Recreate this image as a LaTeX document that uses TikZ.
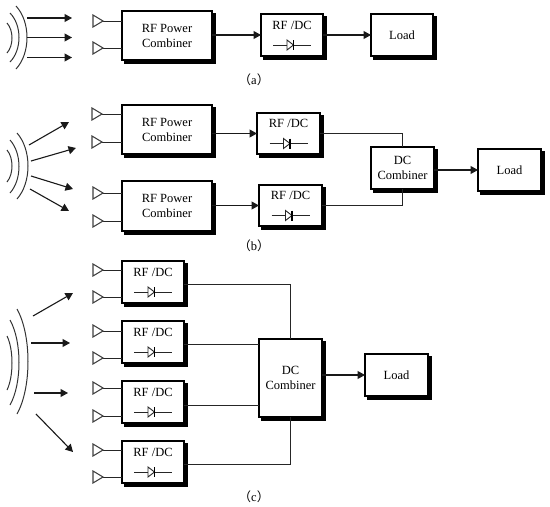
\documentclass[tikz,border=0pt]{standalone}
\usepackage{fontspec}
\setmainfont{Liberation Serif}
\newfontfamily\cjkf{Noto Sans CJK SC}
\usetikzlibrary{arrows.meta,shadows,calc}
\tikzset{
  blk/.style={draw=black,fill=white,line width=1.4pt,inner sep=0pt,outer sep=0pt,align=center,
    font=\fontsize{12.5}{15}\selectfont,
    copy shadow={shadow xshift=3pt,shadow yshift=-3pt,fill=black,draw=black,opacity=1}},
  conn/.style={line width=1pt,draw=black!85},
  arr/.style={line width=1.1pt,draw=black!90,-{Triangle[length=7.5pt,width=8pt]}},
  wavel/.style={line width=1pt,draw=black!80},
  antl/.style={line width=1.1pt,draw=black!75,fill=white,line join=miter},
  diodel/.style={line width=0.9pt,draw=black!85},
  captext/.style={font=\fontsize{12.5}{14}\selectfont,inner sep=0pt}
}
% name, x0, y0, x1, y1, text
\newcommand{\blkbox}[6]{%
  \pgfmathsetmacro{\bw}{#4-#2}\pgfmathsetmacro{\bh}{#5-#3}%
  \node[blk,minimum width=\bw pt,minimum height=\bh pt] (#1) at ({(#2+#4)/2},{(#3+#5)/2}) {#6};}
% rectifier box with a diode
\newcommand{\rfbox}[5]{%
  \blkbox{#1}{#2}{#3}{#4}{#5}{RF /DC\\ \strut}%
  \draw[diodel] ($(#1.center)+(-19,10)$) -- ($(#1.center)+(19,10)$);
  \draw[diodel,fill=white] ($(#1.center)+(-5,5)$) -- ($(#1.center)+(1.5,10)$) -- ($(#1.center)+(-5,15)$) -- cycle;
  \draw[line width=1.2pt,draw=black] ($(#1.center)+(1.5,5)$) -- ($(#1.center)+(1.5,15)$);}
% name, box, tip x, y
\newcommand{\antn}[4]{%
  \coordinate (#1) at (#3,#4);
  \draw[conn] (#1) -- (#1 -| #2.west);
  \draw[antl] (#3-10,#4-6) -- (#1) -- (#3-10,#4+6) -- cycle;}
% x0, y0, peak x, y1
\newcommand{\wave}[4]{%
  \draw[wavel] (#1,#2) .. controls ({#1+4/3*(#3-#1)},{#2+(#4-#2)/4}) and ({#1+4/3*(#3-#1)},{#2+3*(#4-#2)/4}) .. (#1,#4);}
% name, start, end
\newcommand{\ray}[3]{%
  \coordinate (#1s) at (#2); \coordinate (#1e) at (#3);
  \draw[arr] (#1s) -- (#1e);}
\begin{document}
\begin{tikzpicture}[x=1pt,y=-1pt]
\useasboundingbox (0,0) rectangle (550,507);
% ---------- (a)
\wave{16}{6}{27}{69}\wave{10}{13}{19}{62}\wave{7}{23}{12}{53}
\ray{aa}{27,18}{72,18}\ray{ab}{27,37.5}{72,37.5}\ray{ac}{27,57.5}{72,57.5}
\blkbox{ap}{122}{11}{212}{60}{RF Power\\Combiner}
\rfbox{ar}{261}{14}{323}{56}
\blkbox{al}{371}{14}{433}{56}{Load}
\antn{aA}{ap}{103}{21}\antn{aB}{ap}{103}{48}
\draw[arr] (ap.east |- ar.west) -- (ar.west);
\draw[arr] (ar.east) -- (al.west);
\node[captext] (capa) at (254,80) {{\cjkf（}a{\cjkf）}};
% ---------- (b)
\wave{17}{133}{28}{199}\wave{10}{140}{19}{193}\wave{7}{150}{12}{182}
\ray{ba}{29,145}{69,122}\ray{bb}{31,161}{76,148}\ray{bc}{31,176}{73,189}\ray{bd}{30,189}{69,211}
\blkbox{bp}{122}{105}{212}{154}{RF Power\\Combiner}
\blkbox{bq}{122}{181}{212}{231}{RF Power\\Combiner}
\rfbox{br}{257}{113}{320}{154}
\rfbox{bs}{259}{185}{322}{226}
\blkbox{bd}{371}{147}{434}{189}{DC\\Combiner}
\blkbox{bl}{478}{149}{541}{191}{Load}
\antn{bA}{bp}{102}{114}\antn{bB}{bp}{102}{142}
\antn{bC}{bq}{103}{193}\antn{bD}{bq}{103}{221}
\draw[arr] (bp.east |- br.east) -- (br.west);
\draw[arr] (bq.east |- bs.east) -- (bs.west);
\draw[conn] (br.east) -| (bd.north);
\draw[conn] (bs.east) -| (bd.south);
\draw[arr] (bd.east |- bl.west) -- (bl.west);
\node[captext] (capb) at (254,246) {{\cjkf（}b{\cjkf）}};
% ---------- (c)
\wave{17}{309}{28}{414}\wave{10}{320}{19}{405}\wave{7}{336}{12}{390}
\ray{ca}{33,316}{73,293}\ray{cb}{31,343}{70,343}\ray{cc}{34,393}{68,393}\ray{cd}{36,414}{73,452}
\rfbox{cr}{122}{261}{184}{303}
\rfbox{cs}{122}{321}{184}{363}
\rfbox{ct}{122}{381}{184}{423}
\rfbox{cu}{122}{441}{184}{483}
\blkbox{cd}{259}{339}{322}{417}{DC\\Combiner}
\blkbox{cl}{365}{354}{428}{396}{Load}
\antn{cA}{cr}{103}{270}\antn{cB}{cr}{103}{297}
\antn{cC}{cs}{103}{331}\antn{cD}{cs}{103}{358}
\antn{cE}{ct}{103}{388}\antn{cF}{ct}{103}{416}
\antn{cG}{cu}{103}{450}\antn{cH}{cu}{103}{477}
\coordinate (cro) at ($(cr.east)+(0,2)$);
\coordinate (cso) at ($(cs.east)+(0,2)$);
\coordinate (cto) at ($(ct.east)+(0,3)$);
\coordinate (cuo) at ($(cu.east)+(0,2)$);
\draw[conn] (cro) -| (cd.north);
\draw[conn] (cso) -- (cso -| cd.west);
\draw[conn] (cto) -- (cto -| cd.west);
\draw[conn] (cuo) -| (cd.south);
\draw[arr] (cd.east |- cl.west) -- (cl.west);
\node[captext] (capc) at (254,497) {{\cjkf（}c{\cjkf）}};
\end{tikzpicture}
\end{document}
